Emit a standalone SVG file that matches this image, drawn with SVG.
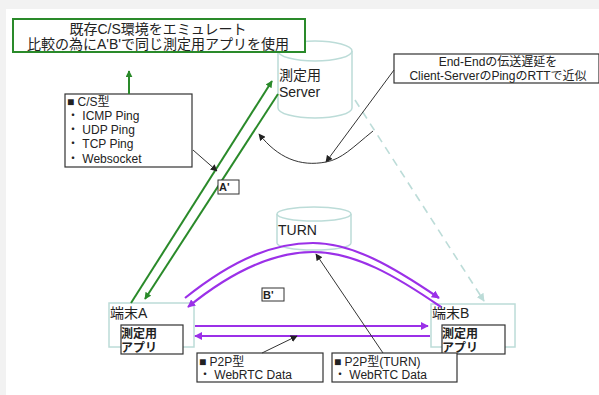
<svg xmlns="http://www.w3.org/2000/svg" width="599" height="395" viewBox="0 0 599 395">
<style>
text{font-family:"Liberation Sans","Noto Sans CJK JP",sans-serif;fill:#222}
.box{fill:#fff;stroke:#333;stroke-width:1.2}
.dev{fill:#fff;stroke:#bcdcd8;stroke-width:1.5}
.cyl{fill:#fff;stroke:#bcdcd8;stroke-width:1.5}
.g{fill:none;stroke:#2a8a2a;stroke-width:2}
.p{fill:none;stroke:#9b30e8;stroke-width:2.2}
.k{fill:none;stroke:#333;stroke-width:1}
.d{fill:none;stroke:#bcdcd8;stroke-width:1.6;stroke-dasharray:8,6}
.t13{font-size:13px}
.t12{font-size:12px}
.t14{font-size:14px}
.b{font-weight:bold}
</style>
<defs>
<marker id="ag" viewBox="0 0 10 10" refX="9" refY="5" markerWidth="7" markerHeight="7" markerUnits="userSpaceOnUse" orient="auto"><path d="M0,0 L10,5 L0,10 z" fill="#2a8a2a"/></marker>
<marker id="ap" viewBox="0 0 10 10" refX="9" refY="5" markerWidth="8" markerHeight="8" markerUnits="userSpaceOnUse" orient="auto"><path d="M0,0 L10,5 L0,10 z" fill="#9b30e8"/></marker>
<marker id="ak" viewBox="0 0 10 10" refX="9" refY="5" markerWidth="7" markerHeight="7" markerUnits="userSpaceOnUse" orient="auto"><path d="M0,0 L10,5 L0,10 z" fill="#222"/></marker>
<marker id="ad" viewBox="0 0 10 10" refX="9" refY="5" markerWidth="8" markerHeight="8" markerUnits="userSpaceOnUse" orient="auto"><path d="M0,0 L10,5 L0,10 z" fill="#bcdcd8"/></marker>
</defs>
<rect x="0" y="0" width="599" height="395" fill="#fff"/>
<rect x="0" y="0" width="599" height="9" fill="#f2f2f2"/>
<rect x="0" y="0" width="6" height="395" fill="#f2f2f2"/>

<g id="server">
<path class="cyl" d="M278,51 A37,10 0 0 1 352,51 L352,108 A37,10 0 0 1 278,108 Z"/>
<path class="cyl" d="M278,51 A37,10 0 0 0 352,51"/>
<text class="t14" x="279" y="80">測定用</text>
<text class="t14" x="279" y="97">Server</text>
</g>

<g id="title">
<rect x="13" y="19" width="292" height="33" fill="#fff" stroke="#2a8a2a" stroke-width="2"/>
<text class="t14" x="158" y="34" text-anchor="middle">既存C/S環境をエミュレート</text>
<text class="t14" x="158" y="49" text-anchor="middle">比較の為にA'B'で同じ測定用アプリを使用</text>
</g>

<g id="turn">
<path class="cyl" d="M277,214 A37,7 0 0 1 351,214 L351,243 A37,7 0 0 1 277,243 Z"/>
<path class="cyl" d="M277,214 A37,7 0 0 0 351,214"/>
<text class="t14" x="278" y="235">TURN</text>
</g>

<g id="cs-note">
<rect class="box" x="65" y="94" width="127" height="73"/>
<text class="t12" x="67" y="106">■ C/S型</text>
<text class="t12" x="67" y="120">・ ICMP  Ping</text>
<text class="t12" x="67" y="134">・ UDP  Ping</text>
<text class="t12" x="67" y="148">・ TCP Ping</text>
<text class="t12" x="67" y="163">・ Websocket</text>
</g>

<g id="rtt-note">
<rect class="box" x="394" y="54" width="205" height="29"/>
<text class="t12" x="498" y="66" text-anchor="middle">End-Endの伝送遅延を</text>
<text class="t12" x="498" y="80" text-anchor="middle">Client-ServerのPingのRTTで近似</text>
</g>

<g id="termA">
<rect class="dev" x="109" y="303" width="85" height="44"/>
<text class="t14" x="110" y="318">端末A</text>
<rect class="box" x="121" y="325" width="62" height="29"/>
<text class="t12 b" x="121" y="338">測定用</text>
<text class="t12 b" x="121" y="352">アプリ</text>
</g>

<g id="termB">
<rect class="dev" x="431" y="304" width="84" height="43"/>
<text class="t14" x="432" y="318">端末B</text>
<rect class="box" x="442" y="325" width="63" height="29"/>
<text class="t12 b" x="442" y="338">測定用</text>
<text class="t12 b" x="442" y="352">アプリ</text>
</g>

<g id="p2p-note">
<rect class="box" x="197" y="353" width="126" height="29"/>
<text class="t12" x="199" y="366">■ P2P型</text>
<text class="t12" x="199" y="379">・ WebRTC Data</text>
</g>

<g id="p2p-turn-note">
<rect class="box" x="332" y="353" width="125" height="29"/>
<text class="t12" x="334" y="366">■ P2P型(TURN)</text>
<text class="t12" x="334" y="379">・ WebRTC Data</text>
</g>

<g id="connectors">
<path class="g" d="M131,303 L272,81" marker-end="url(#ag)"/>
<path class="g" d="M278,94 L145,299" marker-end="url(#ag)"/>
<path class="g" d="M129,94 L129,71" marker-end="url(#ag)"/>
<path class="d" d="M355,100 L484,301" marker-end="url(#ad)"/>
<path class="p" d="M185,298 C235,258 275,243 313,243 C352,243 392,266 439,298" marker-end="url(#ap)"/>
<path class="p" d="M441,307 C396,276 355,252 313,252 C276,252 236,268 188,307" marker-end="url(#ap)"/>
<path class="p" d="M195,326 L428,326" marker-end="url(#ap)"/>
<path class="p" d="M430,336 L195,336" marker-end="url(#ap)"/>
<path class="k" d="M193,150 L217,171" marker-end="url(#ak)"/>
<path class="k" d="M394,70 L326,162" marker-end="url(#ak)"/>
<path class="k" d="M373,131 C352,148 342,159 326,162 C300,167 278,158 259,134" marker-end="url(#ak)"/>
<path class="k" d="M262,353 L297,336" marker-end="url(#ak)"/>
<path class="k" d="M383,353 L316,254" marker-end="url(#ak)"/>
<g id="label-a"><rect x="218" y="180" width="21" height="14" fill="#fff" stroke="#333" stroke-width="1"/><text class="b" font-size="11" x="219" y="191">A'</text></g>
<g id="label-b"><rect x="262" y="288" width="22" height="13" fill="#fff" stroke="#333" stroke-width="1"/><text class="b" font-size="11" x="263" y="299">B'</text></g>
</g>
</svg>
